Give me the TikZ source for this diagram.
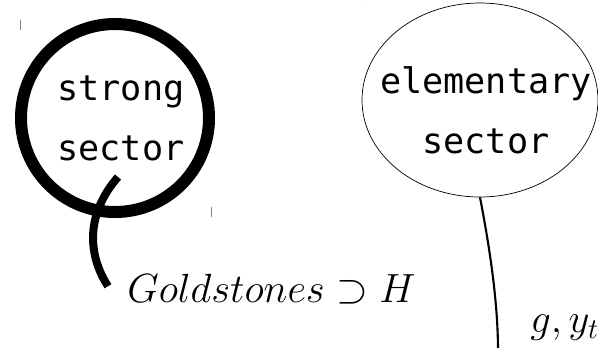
\RequirePackage{fix-cm}
\documentclass[tikz,border=0pt]{standalone}
\usepackage{fontspec}
\usetikzlibrary{shapes.geometric,calc}
\newfontfamily\handfont{DejaVu Sans Mono}

\begin{document}
\begin{tikzpicture}[
  sector/.style={align=center, font=\handfont\fontsize{25}{42.7}\selectfont, inner sep=0pt},
  strongsec/.style={circle, draw, line width=0.3cm, minimum size=4.7cm, inner sep=0pt},
  elemsec/.style={ellipse, draw, line width=0.5pt, minimum width=5.9cm, minimum height=4.85cm, inner sep=0pt},
  fieldlabel/.style={font=\fontsize{29}{34}\selectfont, inner sep=0pt, anchor=base west}
]
  \useasboundingbox (0,0) rectangle (14.95,8.675);

  % sectors
  \node[strongsec] (strong) at (2.875,5.725) {};
  \node[sector] (strongtext) at ([shift={(0.15,0)}]strong.center) {strong\\sector};
  \node[elemsec] (elem) at (12.0,6.175) {};
  \node[sector] (elemtext) at ([shift={(0.15,-0.25)}]elem.center) {elementary\\sector};

  % fields
  \node[fieldlabel] (gold) at (3.175,1.125) {$Goldstones \supset H$};
  \node[fieldlabel] (gyt) at (13.25,0.375) {$g, y_t$};
  \coordinate (bottom) at (12.45,-0.1);

  % couplings
  \draw[line width=0.2cm] ([shift={(0.075,-1.475)}]strong.center)
    .. controls +(-0.825,-0.95) and +(-0.5,0.775) .. ([shift={(-0.475,0.06)}]gold.west);
  \draw[line width=1.5pt] (elem.south)
    .. controls +(0.25,-1.3) and +(0,1.2) .. (bottom);

  % marks
  \draw[gray, line width=0.4pt] (0.5,8.175) -- (0.5,7.925);
  \draw[gray, line width=0.4pt] (5.275,3.5) -- (5.275,3.25);
  \fill[gray] (9.05,8.575) circle (0.3pt);
\end{tikzpicture}
\end{document}
